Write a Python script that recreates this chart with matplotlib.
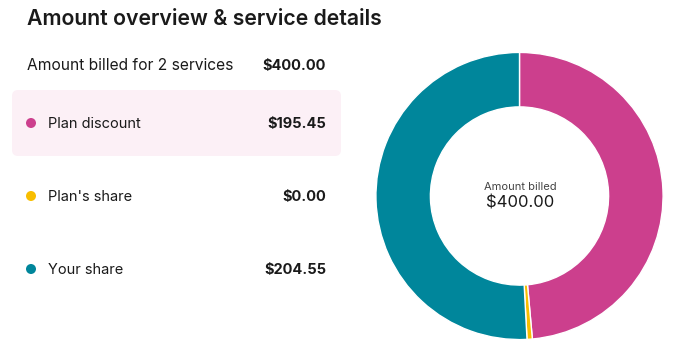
import matplotlib.pyplot as plt
import numpy as np
from matplotlib.patches import FancyBboxPatch, Circle

plt.rcParams['font.family'] = ['Inter', 'DejaVu Sans']

# data
labels = ['Plan discount', "Plan's share", 'Your share']
amounts = [195.45, 0.00, 204.55]
colors = ['#CC3F8D', '#F8BE00', '#00869B']
total = 400.00
n_services = 2

W, H = 690, 360
fig = plt.figure(figsize=(W / 100, H / 100), dpi=100)
fig.patch.set_facecolor('white')

# pixel coordinate axes for the list part
ax = fig.add_axes([0, 0, 1, 1])
ax.set_xlim(0, W)
ax.set_ylim(H, 0)
ax.axis('off')

ax.text(27, 19, 'Amount overview & service details', fontsize=15.3, fontweight='semibold',
        color='#1a1a1a', va='center', ha='left')

ax.text(27, 66, f'Amount billed for {n_services} services', fontsize=11.2, color='#1a1a1a',
        va='center', ha='left')
ax.text(326, 66, f'${total:,.2f}', fontsize=10.5, fontweight='bold', color='#1a1a1a',
        va='center', ha='right')

# highlight box behind first row
ax.add_patch(FancyBboxPatch((18, 96), 317, 54, boxstyle='round,pad=6,rounding_size=6',
                            facecolor='#FCF0F6', edgecolor='none'))

row_y = [124, 197, 270]
for lab, amt, col, y in zip(labels, amounts, colors, row_y):
    ax.add_patch(Circle((31, y - 1), 5, facecolor=col, edgecolor='none'))
    ax.text(48, y, lab, fontsize=10.5, color='#1a1a1a', va='center', ha='left')
    ax.text(326, y, f'${amt:,.2f}', fontsize=10.5, fontweight='bold', color='#1a1a1a',
            va='center', ha='right')

# donut
cx, cy, r = 519.5, 196, 145
pax = fig.add_axes([(cx - r) / W, (H - cy - r) / H, 2 * r / W, 2 * r / H])
# zero slices still get a sliver so they show up in the ring
shown = np.maximum(np.array(amounts), total * 0.006)
pax.pie(shown, colors=colors, startangle=90, counterclock=False, radius=1,
        wedgeprops=dict(width=55 / 145, edgecolor='white', linewidth=1.0))
pax.set_xlim(-1.01, 1.01)
pax.set_ylim(-1.01, 1.01)
pax.set_aspect('equal')
pax.axis('off')

ax.text(cx + 1, 187, 'Amount billed', fontsize=8, color='#444444', va='center', ha='center')
ax.text(cx + 1, 203, f'${total:,.2f}', fontsize=12, color='#1a1a1a', va='center', ha='center')

fig.savefig('out.png', dpi=100, facecolor='white')
